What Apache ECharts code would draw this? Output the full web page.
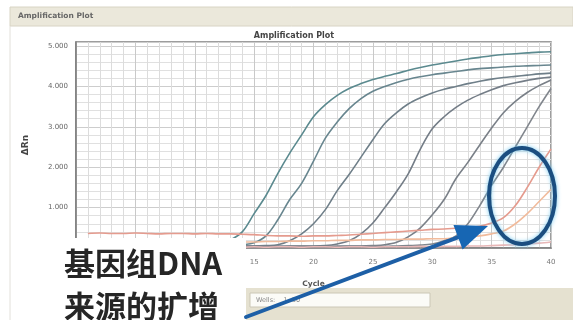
<!DOCTYPE html>
<html>
<head>
<meta charset="utf-8">
<script src="https://cdn.jsdelivr.net/npm/echarts@6/dist/echarts.min.js"></script>
<style>
  html, body { margin: 0; padding: 0; background: #ffffff; }
  #chart { width: 573px; height: 320px; }
</style>
</head>
<body>
<div id="chart"></div>
<script>
// Amplification plot: ΔRn per PCR cycle for each well
const cycles = [1,2,3,4,5,6,7,8,9,10,11,12,13,14,15,16,17,18,19,20,
                21,22,23,24,25,26,27,28,29,30,31,32,33,34,35,36,37,38,39,40];

const yTicks = [1, 2, 3, 4, 5];
const xTicks = [0, 5, 10, 15, 20, 25, 30, 35, 40];

const wellA = [0.05,0.05,0.05,0.05,0.05,0.05,0.05,0.05,0.05,0.06,0.07,0.10,0.20,0.40,0.85,1.30,1.85,2.35,2.80,3.25,
               3.55,3.78,3.95,4.07,4.17,4.25,4.32,4.40,4.47,4.53,4.58,4.63,4.68,4.72,4.76,4.79,4.81,4.83,4.85,4.86];
const wellB = [0.05,0.05,0.05,0.05,0.05,0.05,0.05,0.05,0.05,0.05,0.05,0.05,0.06,0.08,0.13,0.30,0.70,1.20,1.60,2.15,
               2.72,3.12,3.45,3.70,3.88,4.00,4.10,4.18,4.24,4.29,4.33,4.37,4.41,4.44,4.46,4.48,4.50,4.51,4.52,4.53];
const wellC = [0.05,0.05,0.05,0.05,0.05,0.05,0.05,0.05,0.05,0.05,0.05,0.05,0.05,0.05,0.05,0.06,0.08,0.18,0.35,0.60,
               0.95,1.42,1.82,2.25,2.68,3.08,3.35,3.57,3.72,3.84,3.93,4.00,4.07,4.13,4.18,4.22,4.25,4.28,4.31,4.33];
const wellD = [0.04,0.04,0.04,0.04,0.04,0.04,0.04,0.04,0.04,0.04,0.04,0.04,0.04,0.04,0.04,0.04,0.04,0.05,0.05,0.05,
               0.06,0.10,0.18,0.35,0.62,1.00,1.40,1.85,2.45,2.95,3.25,3.48,3.66,3.80,3.92,4.02,4.09,4.15,4.20,4.23];
const wellE = [0.04,0.04,0.04,0.04,0.04,0.04,0.04,0.04,0.04,0.04,0.04,0.04,0.04,0.04,0.04,0.04,0.04,0.04,0.04,0.04,
               0.04,0.05,0.05,0.05,0.06,0.08,0.14,0.28,0.50,0.82,1.20,1.72,2.12,2.55,2.97,3.35,3.63,3.85,4.02,4.16];
const wellF = [0.03,0.03,0.03,0.03,0.03,0.03,0.03,0.03,0.03,0.03,0.03,0.03,0.03,0.03,0.03,0.03,0.03,0.03,0.03,0.03,
               0.03,0.03,0.04,0.04,0.04,0.04,0.05,0.06,0.07,0.10,0.18,0.30,0.60,1.05,1.55,2.00,2.50,3.00,3.50,3.95];
// genomic-DNA background wells (late rise)
const gdna1 = [0.36,0.37,0.36,0.36,0.37,0.36,0.35,0.36,0.36,0.35,0.36,0.35,0.35,0.34,0.33,0.31,0.30,0.30,0.29,0.30,
               0.30,0.31,0.32,0.34,0.36,0.38,0.40,0.42,0.44,0.46,0.47,0.49,0.51,0.54,0.62,0.75,1.05,1.50,2.00,2.45];
const gdna2 = [0.12,0.12,0.13,0.12,0.13,0.13,0.12,0.13,0.13,0.14,0.13,0.14,0.14,0.15,0.15,0.16,0.16,0.17,0.17,0.18,
               0.18,0.19,0.19,0.20,0.20,0.21,0.21,0.22,0.22,0.23,0.23,0.25,0.28,0.30,0.35,0.42,0.60,0.85,1.15,1.45];
const ntc = [0.02,0.02,0.02,0.03,0.02,0.02,0.03,0.02,0.02,0.03,0.02,0.02,0.03,0.02,0.03,0.02,0.03,0.03,0.02,0.03,
             0.03,0.02,0.03,0.03,0.02,0.03,0.03,0.03,0.04,0.03,0.04,0.04,0.05,0.05,0.06,0.07,0.08,0.10,0.12,0.15];

const wells = [
  { name: 'A', values: wellA, color: '#5b8a8f' },
  { name: 'B', values: wellB, color: '#68868f' },
  { name: 'C', values: wellC, color: '#6f7f89' },
  { name: 'D', values: wellD, color: '#747d87' },
  { name: 'E', values: wellE, color: '#7a8088' },
  { name: 'F', values: wellF, color: '#81868d' },
  { name: 'gDNA-1', values: gdna1, color: '#e59b8e' },
  { name: 'gDNA-2', values: gdna2, color: '#f1bb9c' },
  { name: 'NTC', values: ntc, color: '#e8b7b7' }
];

const chart = echarts.init(document.getElementById('chart'), null, { renderer: 'canvas' });

// arrow geometry (pixel space annotation)
const arrowTail = [246, 317];
const arrowTip = [488, 226];
const dx = arrowTip[0] - arrowTail[0], dy = arrowTip[1] - arrowTail[1];
const len = Math.sqrt(dx * dx + dy * dy);
const ux = dx / len, uy = dy / len;
const headLen = 32, headHalf = 13;
const bx = arrowTip[0] - ux * headLen, by = arrowTip[1] - uy * headLen;

const option = {
  animation: false,
  backgroundColor: '#ffffff',
  grid: {
    left: 76, right: 22, top: 42, bottom: 72,
    show: true, borderColor: '#7d7d7d', borderWidth: 1.5, backgroundColor: '#ffffff'
  },
  xAxis: {
    type: 'value', min: xTicks[0], max: xTicks[xTicks.length - 1], interval: 5,
    name: 'Cycle', nameLocation: 'middle', nameGap: 32,
    nameTextStyle: { fontSize: 7.5, fontWeight: 'bold', color: '#555', fontFamily: 'DejaVu Sans' },
    axisLine: { show: true, lineStyle: { color: '#7d7d7d', width: 1.5 } },
    axisTick: { show: false },
    axisLabel: { fontSize: 7, color: '#777', margin: 11, fontFamily: 'DejaVu Sans' },
    splitLine: { show: true, lineStyle: { color: '#c9c9c9', width: 1 } },
    minorTick: { show: false, splitNumber: 5 },
    minorSplitLine: { show: true, lineStyle: { color: '#dcdcdc', width: 1 } }
  },
  yAxis: {
    type: 'value', min: 0, max: 5.1, interval: 1,
    name: 'ΔRn', nameLocation: 'middle', nameGap: 46, nameRotate: 90,
    nameTextStyle: { fontSize: 9, fontWeight: 'bold', color: '#444', fontFamily: 'DejaVu Sans' },
    axisLine: { show: true, lineStyle: { color: '#7d7d7d', width: 1.5 } },
    axisTick: { show: false },
    axisLabel: {
      fontSize: 7, color: '#666', margin: 8, fontFamily: 'DejaVu Sans',
      formatter: v => (yTicks.indexOf(v) >= 0 ? v.toFixed(3) : '')
    },
    splitLine: { show: true, lineStyle: { color: '#cdcdcd', width: 1 } },
    minorTick: { show: false, splitNumber: 5 },
    minorSplitLine: { show: true, lineStyle: { color: '#e0e0e0', width: 1 } }
  },
  series: wells.map(w => ({
    name: w.name,
    type: 'line',
    showSymbol: false,
    smooth: 0.35,
    lineStyle: { color: w.color, width: 1.6 },
    data: cycles.map((c, i) => [c, w.values[i]]),
    z: 3
  })),
  graphic: [
    // window title bar
    { type: 'rect', shape: { x: 10, y: 7, width: 563, height: 19 }, style: { fill: '#ebe8db', stroke: '#d8d4c4', lineWidth: 1 }, z: 10 },
    { type: 'line', shape: { x1: 10, y1: 26, x2: 10, y2: 320 }, style: { stroke: '#e2e0da', lineWidth: 1 }, z: 10 },
    { type: 'text', x: 18, y: 16.5, style: { text: 'Amplification Plot', fontSize: 7.5, fontWeight: 'bold', fill: '#666', fontFamily: 'DejaVu Sans', verticalAlign: 'middle' }, z: 11 },
    // chart title
    { type: 'text', x: 294, y: 36, style: { text: 'Amplification Plot', fontSize: 8, fontWeight: 'bold', fill: '#444', fontFamily: 'DejaVu Sans', align: 'center', verticalAlign: 'middle' }, z: 11 },
    // bottom status bar
    { type: 'rect', shape: { x: 240, y: 288, width: 333, height: 32 }, style: { fill: '#e5e1d0' }, z: 10 },
    { type: 'rect', shape: { x: 250, y: 293, width: 180, height: 14 }, style: { fill: '#fbfbf7', stroke: '#cbc7b6', lineWidth: 1 }, z: 11 },
    { type: 'text', x: 256, y: 300, style: { text: 'Wells:    1, 30', fontSize: 6.5, fill: '#888', fontFamily: 'DejaVu Sans', verticalAlign: 'middle' }, z: 12 },
    // caption box
    { type: 'rect', shape: { x: 48, y: 238, width: 198, height: 82 }, style: { fill: '#ffffff' }, z: 20 },
    { type: 'text', x: 64, y: 263, style: { text: '基因组DNA', fontSize: 31, fontWeight: 'bold', fill: '#262626', fontFamily: 'Noto Sans CJK SC', verticalAlign: 'middle' }, z: 21 },
    { type: 'text', x: 64, y: 306, style: { text: '来源的扩增', fontSize: 31, fontWeight: 'bold', fill: '#262626', fontFamily: 'Noto Sans CJK SC', verticalAlign: 'middle' }, z: 21 },
    // highlight ellipse around the late-rising wells
    { type: 'ellipse', shape: { cx: 522, cy: 196, rx: 33, ry: 48 },
      style: { fill: 'none', stroke: '#1b4e80', lineWidth: 4, shadowBlur: 4, shadowColor: 'rgba(110,200,240,0.9)' }, z: 22 },
    // pointer arrow
    { type: 'line', shape: { x1: arrowTail[0], y1: arrowTail[1], x2: bx + ux * 4, y2: by + uy * 4 },
      style: { stroke: '#1d5fa6', lineWidth: 4, lineCap: 'round' }, z: 22 },
    { type: 'polygon', shape: { points: [
        arrowTip,
        [bx + (-uy) * headHalf, by + ux * headHalf],
        [bx - (-uy) * headHalf, by - ux * headHalf]
      ] }, style: { fill: '#1766b3' }, z: 23 }
  ]
};

chart.setOption(option);
</script>
</body>
</html>
